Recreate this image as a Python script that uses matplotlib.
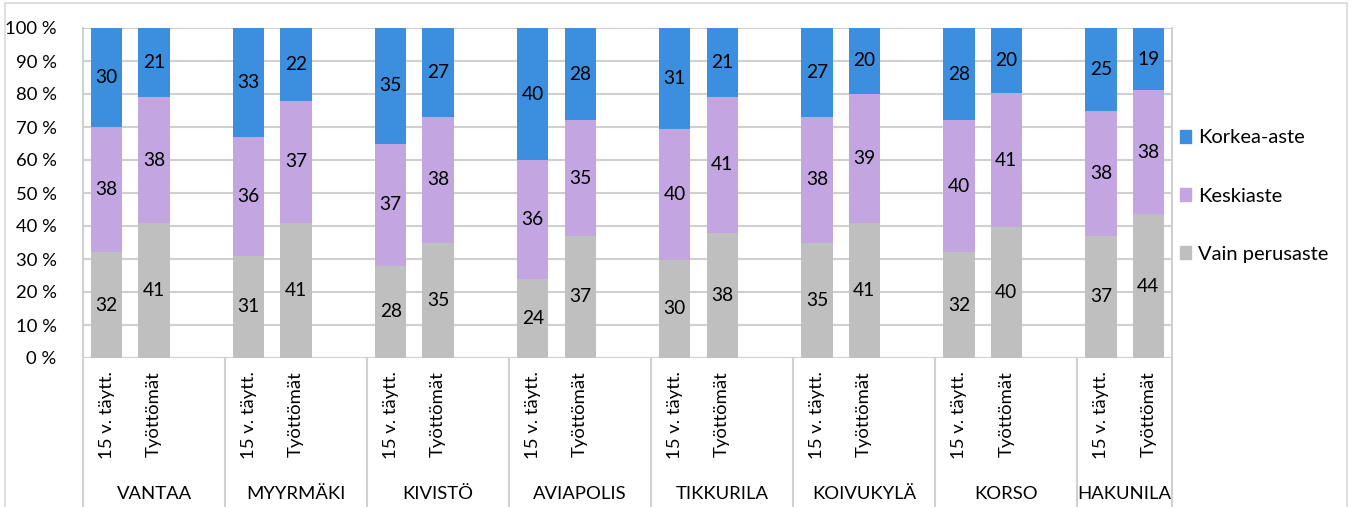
import matplotlib.pyplot as plt
import matplotlib.transforms as mtransforms
from matplotlib.patches import Rectangle, Patch
import numpy as np

plt.rcParams['font.family'] = ['Lato', 'DejaVu Sans']

# data
areas = ['VANTAA', 'MYYRMÄKI', 'KIVISTÖ', 'AVIAPOLIS', 'TIKKURILA', 'KOIVUKYLÄ', 'KORSO', 'HAKUNILA']
bar_names = ['15 v. täytt.', 'Työttömät']
vain = [32, 41, 31, 41, 28, 35, 24, 37, 30, 38, 35, 41, 32, 40, 37, 44]
keski = [38, 38, 36, 37, 37, 38, 36, 35, 40, 41, 38, 39, 40, 41, 38, 38]
korkea = [30, 21, 33, 22, 35, 27, 40, 28, 31, 21, 27, 20, 28, 20, 25, 19]
series = ['Vain perusaste', 'Keskiaste', 'Korkea-aste']
colors = ['#bfbfbf', '#c3a6e1', '#3b8fde']

vals = np.array([vain, keski, korkea], dtype=float)
pct = vals / vals.sum(axis=0) * 100

# 3 slots per area (two bars + gap), last area without gap
xpos = []
for g in range(len(areas)):
    xpos += [3 * g, 3 * g + 1]
xpos = np.array(xpos)

fig = plt.figure(figsize=(13.52, 5.07), dpi=100)
ax = fig.add_axes([83 / 1352, 1 - 358 / 507, (1172 - 83) / 1352, 330 / 507])

fs = 13.3
bottom = np.zeros(len(xpos))
for i in range(3):
    ax.bar(xpos, pct[i], bottom=bottom, width=0.66, color=colors[i], zorder=3)
    for x, b, h, v in zip(xpos, bottom, pct[i], vals[i]):
        ax.text(x, b + h / 2, '%d' % v, ha='center', va='center', fontsize=fs + 0.5, zorder=4)
    bottom += pct[i]

ax.set_xlim(-0.5, 22.5)
ax.set_ylim(0, 100)
ax.set_yticks(np.arange(0, 101, 10))
ax.set_yticklabels(['%d %%' % t for t in range(0, 101, 10)], fontsize=fs)
ax.tick_params(axis='y', length=0, pad=19)
ax.set_xticks([])
ax.yaxis.grid(True, color='#d0d0d0', lw=1.5, zorder=0)
for s in ['top', 'bottom']:
    ax.spines[s].set_visible(False)
for s in ['left', 'right']:
    ax.spines[s].set_color('#d0d0d0')
    ax.spines[s].set_linewidth(1.5)
ax.axhline(0, color='#d0d0d0', lw=1.5, zorder=2)

trans = mtransforms.blended_transform_factory(ax.transData, ax.transAxes)
for i, x in enumerate(xpos):
    ax.text(x, -0.04, bar_names[i % 2], rotation=90, ha='center', va='top',
            fontsize=fs, transform=trans)

bounds = [-0.5] + [3 * g + 2.5 for g in range(len(areas) - 1)] + [22.5]
for b in bounds:
    ax.plot([b, b], [0, -0.5], color='#d0d0d0', lw=1.5, transform=trans, clip_on=False)
for g, name in enumerate(areas):
    c = (bounds[g] + bounds[g + 1]) / 2
    ax.text(c, -0.412, name, ha='center', va='center', fontsize=fs, transform=trans)

handles = [Patch(color=colors[i], label=series[i]) for i in [2, 1, 0]]
fig.legend(handles=handles, loc='center left', bbox_to_anchor=(1180 / 1352, 1 - 196 / 507),
           frameon=False, fontsize=fs + 1.2, handlelength=0.55, handleheight=0.6,
           handletextpad=0.35, labelspacing=2.05, borderpad=0, borderaxespad=0)

fig.patches.append(Rectangle((5 / 1352, -0.1), 1342 / 1352, 1.1 - 3 / 507,
                             transform=fig.transFigure, fill=False,
                             edgecolor='#d9d9d9', lw=1.2))

fig.savefig('out.png', dpi=100)
